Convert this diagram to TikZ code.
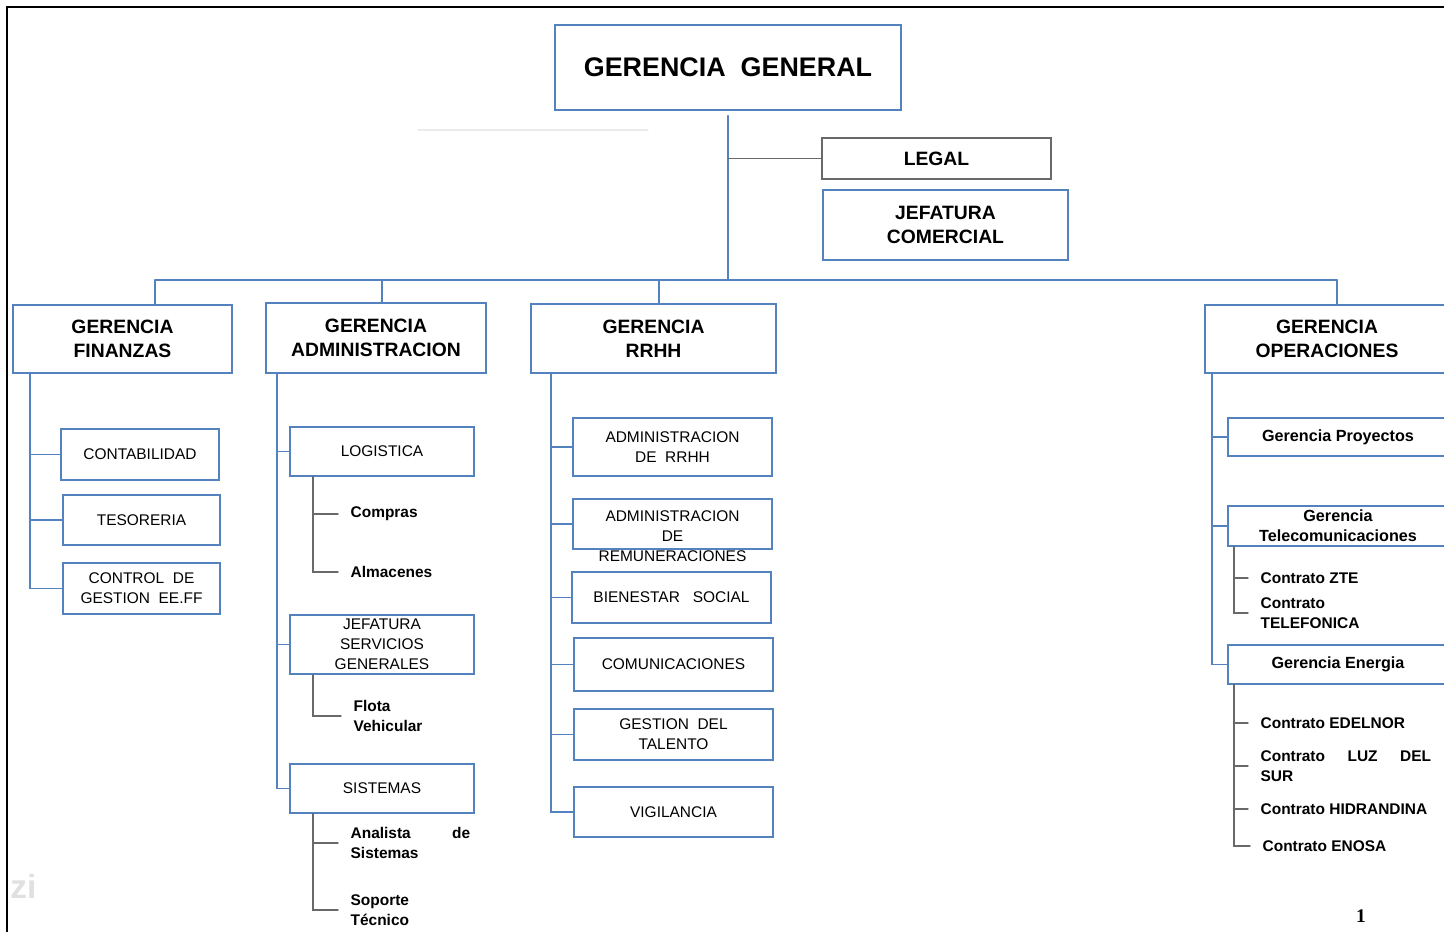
\documentclass[tikz,border=0pt]{standalone}
\usepackage{fontspec}
\setmainfont{Liberation Sans}
\newfontfamily\serifnum{Liberation Serif}
\usepackage{xcolor}
\definecolor{orgblue}{RGB}{84,130,190}
\definecolor{orggray}{RGB}{105,105,105}

\begin{document}
\begin{tikzpicture}[x=0.02cm,y=-0.02cm,line cap=round,
  box/.style={draw=orgblue,line width=0.9pt,fill=white,inner sep=0pt,align=center},
  sz/.style 2 args={minimum width=#1*0.02cm,minimum height=#2*0.02cm},
  head/.style={box,font=\bfseries\fontsize{11}{13.7}\selectfont},
  unit/.style={box,font=\fontsize{8.8}{11.4}\selectfont},
  sub/.style={box,font=\bfseries\fontsize{9.2}{11.4}\selectfont},
  leaf/.style={anchor=west,inner xsep=7pt,inner ysep=0pt,align=left,font=\bfseries\fontsize{8.8}{11.4}\selectfont},
  link/.style={orgblue,line width=1pt},
  sublink/.style={orggray,line width=0.8pt}]
\useasboundingbox (0,0) rectangle (1444,932);
\clip (0,0) rectangle (1444,932);
% top of the chart
\node[head,sz={346}{85},font=\bfseries\fontsize{15.3}{18}\selectfont] (gg) at (728,67.5) {GERENCIA\ \ GENERAL};
\node[head,sz={229}{41},draw=orggray] (legal) at (936.5,158.5) {LEGAL};
\node[head,sz={245}{70}] (jcom) at (945.5,225) {JEFATURA\\COMERCIAL};
\node[head,sz={219}{68}] (gfin) at (122.5,339) {GERENCIA\\FINANZAS};
\node[head,sz={220}{70}] (gadm) at (376,338) {GERENCIA\\ADMINISTRACION};
\node[head,sz={245}{69}] (grrhh) at (653.5,338.5) {GERENCIA\\RRHH};
\node[head,sz={244}{68}] (gope) at (1327,339) {GERENCIA\\OPERACIONES};
% finanzas
\node[unit,sz={158}{51}] (conta) at (140,454.5) {CONTABILIDAD};
\node[unit,sz={157}{50}] (teso) at (141.5,520) {TESORERIA};
\node[unit,sz={157}{51}] (ctrl) at (141.5,588.5) {CONTROL\ \ DE\\GESTION\ \ EE.FF};
% administracion
\node[unit,sz={184}{49}] (logi) at (382,451.5) {LOGISTICA};
\node[unit,sz={184}{59}] (jsg) at (382,644.5) {JEFATURA\\SERVICIOS\\GENERALES};
\node[unit,sz={184}{49}] (sist) at (382,788.5) {SISTEMAS};
\node[leaf] (compras) at (338,514) {Compras};
\node[leaf] (almac) at (338,572) {Almacenes};
\node[leaf] (flota) at (341,716) {Flota\\Vehicular};
\node[leaf] (ana) at (338,843) {\makebox[68pt][s]{Analista de}\\Sistemas};
\node[leaf] (sop) at (338,910) {Soporte\\Técnico};
% rrhh
\node[unit,sz={199}{58}] (adrh) at (672.5,447) {ADMINISTRACION\\DE\ \ RRHH};
\node[unit,sz={199}{50},label={[unit,draw=none,fill=none,yshift=-0.24cm]center:{ADMINISTRACION\\DE\\REMUNERACIONES}}] (adrem) at (672.5,524) {};
\node[unit,sz={199}{51}] (bien) at (671.5,597.5) {BIENESTAR\ \ \ SOCIAL};
\node[unit,sz={199}{53}] (comu) at (673.5,664.5) {COMUNICACIONES};
\node[unit,sz={199}{51}] (gtal) at (673.5,734.5) {GESTION\ \ DEL\\TALENTO};
\node[unit,sz={199}{50}] (vigi) at (673.5,812) {VIGILANCIA};
% operaciones
\node[sub,sz={220}{38}] (gpro) at (1338,437) {Gerencia Proyectos};
\node[sub,sz={220}{40}] (gtel) at (1338,526) {Gerencia\\Telecomunicaciones};
\node[sub,sz={220}{39}] (gene) at (1338,664.5) {Gerencia Energia};
\node[leaf] (zte) at (1248,578) {Contrato ZTE};
\node[leaf] (tele) at (1248,613) {Contrato\\TELEFONICA};
\node[leaf] (edel) at (1248,723) {Contrato EDELNOR};
\node[leaf] (luz) at (1248,766) {\makebox[97pt][s]{Contrato LUZ DEL}\\SUR};
\node[leaf] (hidr) at (1248,809) {Contrato HIDRANDINA};
\node[leaf] (enosa) at (1250,846) {Contrato ENOSA};
% connectors
\coordinate (bus) at (728,280);
\draw[link,shorten <=0.1cm] (gg.south) -- (bus);
\draw[sublink] (gg.south |- legal.west) -- (legal.west);
\draw[link] (bus -| 155,0) -- (bus -| 1337,0);
\foreach \g/\x in {gfin/155,gadm/382,grrhh/659,gope/1337}
  \draw[link] (bus -| \x,0) -- (\g.north -| \x,0);
\foreach \c in {conta,teso,ctrl} \draw[link] (gfin.south -| 30,0) |- (\c.west);
\foreach \c in {logi,jsg,sist} \draw[link] (gadm.south -| 277,0) |- (\c.west);
\foreach \c in {adrh,adrem,bien,comu,gtal,vigi} \draw[link] (grrhh.south -| 551,0) |- (\c.west);
\foreach \c in {gpro,gtel,gene} \draw[link] (gope.south -| 1212,0) |- (\c.west);
\foreach \c in {compras,almac} \draw[sublink] (logi.south -| 313,0) |- (\c.west);
\draw[sublink] (jsg.south -| 313,0) |- (flota.west);
\foreach \c in {ana,sop} \draw[sublink] (sist.south -| 313,0) |- (\c.west);
\foreach \c in {zte,tele} \draw[sublink] (gtel.south -| 1234,0) |- (\c.west);
\foreach \c in {edel,luz,hidr,enosa} \draw[sublink] (gene.south -| 1234,0) |- (\c.west);
% page marks
\draw[black!8,line width=0.6pt] (418,130) -- (648,130);
\node[text=black!12,font=\bfseries\fontsize{19}{19}\selectfont,anchor=west,inner sep=0pt] (pz) at (10,886) {zi};
\node[font=\bfseries\serifnum\fontsize{11}{11}\selectfont] (pg) at (1361,916) {1};
\draw[line width=1.5pt] (7,932) -- (7,7) -- (1444,7);
\end{tikzpicture}
\end{document}
